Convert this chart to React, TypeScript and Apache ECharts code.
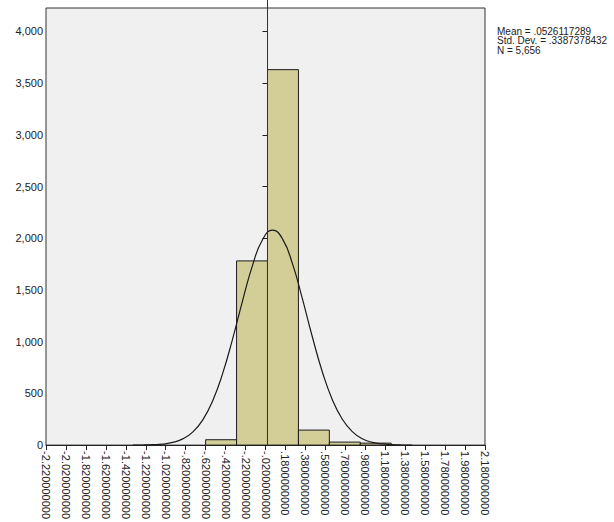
import React, { useEffect, useRef } from "react";
import * as echarts from "echarts";

const tickValues = [-2.22, -2.02, -1.82, -1.62, -1.42, -1.22, -1.02, -0.82, -0.62, -0.42, -0.22, -0.02, 0.18, 0.38, 0.58, 0.78, 0.98, 1.18, 1.38, 1.58, 1.78, 1.98, 2.18];
const tickLabels = ["-2.220000000", "-2.020000000", "-1.820000000", "-1.620000000", "-1.420000000", "-1.220000000", "-1.020000000", "-.8200000000", "-.6200000000", "-.4200000000", "-.2200000000", "-.0200000000", ".1800000000", ".3800000000", ".5800000000", ".7800000000", ".9800000000", "1.180000000", "1.380000000", "1.580000000", "1.780000000", "1.980000000", "2.180000000"];

const yTicks = [0, 500, 1000, 1500, 2000, 2500, 3000, 3500, 4000];

const binEdges = [-0.62, -0.31, 0.0, 0.31, 0.62, 0.93, 1.24];
const binCounts = [52, 1781, 3630, 145, 29, 19];

const curveX = [-1.35, -1.25, -1.15, -1.05, -0.95, -0.85, -0.75, -0.65, -0.55, -0.45, -0.35, -0.25, -0.15, -0.05, 0.05, 0.15, 0.25, 0.35, 0.45, 0.55, 0.65, 0.75, 0.85, 0.95, 1.05, 1.15, 1.25, 1.35, 1.45];
const curveY = [0, 1, 4, 10, 26, 60, 125, 242, 427, 691, 1025, 1395, 1738, 1985, 2079, 1994, 1754, 1414, 1045, 707, 439, 250, 130, 62, 27, 11, 4, 1, 0];

const refLineX = 0;
const statsLines = ["Mean = .0526117289", "Std. Dev. = .3387378432", "N = 5,656"];

export default function App() {
  const ref = useRef<HTMLDivElement>(null);
  useEffect(() => {
    document.body.style.margin = "0";
    const chart = echarts.init(ref.current!, null, { renderer: "svg" });
    const font = "Liberation Sans, Arial, sans-serif";
    const binData = binCounts.map((c, i) => [binEdges[i], binEdges[i + 1], c]);
    chart.setOption({
      animation: false,
      backgroundColor: "#ffffff",
      grid: {
        left: 46,
        right: 129,
        top: 8,
        bottom: 75,
        show: true,
        backgroundColor: "#f0f0f0",
        borderColor: "#333333",
        borderWidth: 1,
      },
      xAxis: {
        type: "value",
        min: -2.22,
        max: 2.18,
        splitLine: { show: false },
        axisLine: { show: true, onZero: false, lineStyle: { color: "#222222", width: 1 } },
        axisTick: { show: true, length: 5, customValues: tickValues, lineStyle: { color: "#222222" } },
        axisLabel: {
          customValues: tickValues,
          rotate: -90,
          margin: 6,
          fontSize: 11,
          fontFamily: font,
          color: "#222222",
          formatter: (v: number) => {
            let best = 0;
            for (let i = 0; i < tickValues.length; i++) {
              if (Math.abs(tickValues[i] - v) < Math.abs(tickValues[best] - v)) best = i;
            }
            return tickLabels[best];
          },
        },
      },
      yAxis: {
        type: "value",
        min: 0,
        max: 4226,
        splitLine: { show: false },
        axisLine: { show: true, lineStyle: { color: "#222222", width: 1 } },
        axisTick: { show: true, length: 5, customValues: yTicks, lineStyle: { color: "#222222" } },
        axisLabel: {
          customValues: yTicks,
          margin: 3,
          fontSize: 11,
          fontFamily: font,
          color: "#222222",
          formatter: (v: number) => v.toLocaleString("en-US"),
        },
      },
      series: [
        {
          type: "custom",
          data: binData,
          encode: { x: [0, 1], y: 2 },
          z: 2,
          renderItem: (params: any, api: any) => {
            const p0 = api.coord([api.value(0), api.value(2)]);
            const p1 = api.coord([api.value(1), 0]);
            return {
              type: "rect",
              shape: { x: p0[0], y: p0[1], width: p1[0] - p0[0], height: p1[1] - p0[1] },
              style: { fill: "#d3ce98", stroke: "#1a1a1a", lineWidth: 1 },
            };
          },
        },
        {
          type: "line",
          data: curveX.map((x, i) => [x, curveY[i]]),
          smooth: true,
          showSymbol: false,
          z: 3,
          lineStyle: { color: "#1a1a1a", width: 1.2 },
          markLine: {
            silent: true,
            symbol: "none",
            label: { show: false },
            lineStyle: { color: "#333333", type: "solid", width: 1 },
            data: [{ xAxis: refLineX }],
          },
        },
      ],
      graphic: [
        {
          type: "text",
          left: 497,
          top: 26,
          style: {
            text: statsLines.join("\n"),
            font: `10px ${font}`,
            lineHeight: 9.5,
            fill: "#222222",
          },
        },
      ],
    });
    const px = chart.convertToPixel({ gridIndex: 0 }, [refLineX, 0]);
    if (px) {
      chart.setOption({
        graphic: [
          {
            type: "text",
            left: 497,
            top: 26,
            style: { text: statsLines.join("\n"), font: `10px ${font}`, lineHeight: 9.5, fill: "#222222" },
          },
          {
            type: "line",
            shape: { x1: px[0], y1: 0, x2: px[0], y2: 8 },
            style: { stroke: "#333333", lineWidth: 1 },
          },
        ],
      });
    }
    return () => chart.dispose();
  }, []);
  return <div ref={ref} style={{ width: 614, height: 522 }} />;
}
